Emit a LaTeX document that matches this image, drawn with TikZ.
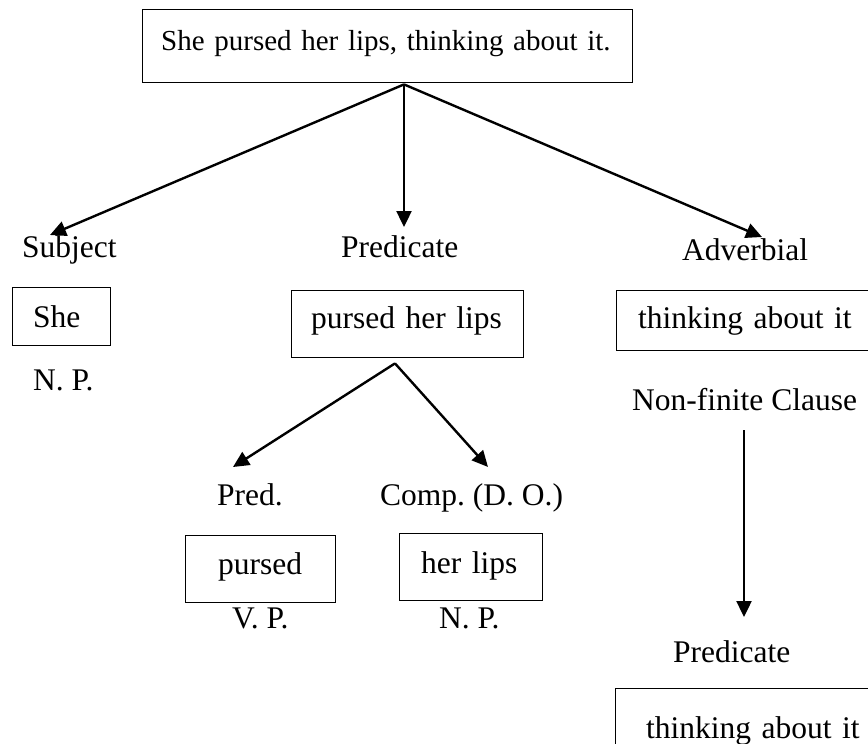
\documentclass[tikz,border=0pt]{standalone}
\usepackage{fontspec}
\setmainfont{Liberation Serif}
\usetikzlibrary{arrows.meta,calc}
\begin{document}
\frenchspacing
\begin{tikzpicture}[x=1pt,y=-1pt,
  lbl/.style={inner sep=0pt, anchor=base west, font=\fontsize{31.5}{36}\selectfont},
  bx/.style={draw, line width=1.4pt, inner ysep=0pt, inner xsep=0.5pt, anchor=north west, align=left, font=\fontsize{31.5}{36}\selectfont},
  arr/.style={line width=2.4pt, -{Triangle[length=16pt,width=15pt]}}]
\useasboundingbox (0,0) rectangle (868,744);
\clip (0,0) rectangle (868,744);
% boxes
\node[bx, font=\fontsize{29}{36}\selectfont, text width=489pt, text height=41pt, text depth=32pt] (top) at (142,9) {\hspace*{18pt}She pursed her lips, thinking about it.};
\node[bx, text width=97pt, text height=40pt, text depth=18pt] (she) at (12,287) {\hspace*{20pt}She};
\node[bx, text width=231pt, text height=38pt, text depth=29pt] (plips) at (291,290) {\hspace*{19pt}pursed her lips};
\node[bx, text width=255pt, text height=38pt, text depth=22pt] (think1) at (616,290) {\hspace*{21pt}thinking about it};
\node[bx, text width=149pt, text height=39pt, text depth=28pt] (pursed) at (185,535) {\hspace*{32pt}pursed};
\node[bx, text width=142pt, text height=40pt, text depth=27pt] (herlips) at (399,533) {\hspace*{21pt}her lips};
\node[bx, text width=274pt, text height=50pt, text depth=22pt] (think2) at (615,688) {\hspace*{30pt}thinking about it};
% labels
\node[lbl] (subj) at (22,257) {Subject};
\node[lbl] (pred) at (341,257) {Predicate};
\node[lbl] (adv) at (682,260) {Adverbial};
\node[lbl] (np1) at (33,390) {N. P.};
\node[lbl] (nfc) at (632,410) {Non-finite Clause};
\node[lbl] (predd) at (217,505) {Pred.};
\node[lbl] (comp) at (380,505) {Comp. (D. O.)};
\node[lbl] (vp) at (232,628) {V. P.};
\node[lbl] (np2) at (439,628) {N. P.};
\node[lbl] (pred2) at (673,662) {Predicate};
% connectors
\draw[arr] ($(top.south west)+(262,1)$) -- ($(subj.base west)+(28,-22)$);
\draw[arr] ($(top.south west)+(262,1)$) -- ($(pred.base west)+(63,-30)$);
\draw[arr] ($(top.south west)+(262,1)$) -- ($(adv.base west)+(80,-23)$);
\draw[arr] ($(plips.south west)+(104,5)$) -- ($(predd.base west)+(16,-38)$);
\draw[arr] ($(plips.south west)+(104,5)$) -- ($(comp.base west)+(108,-38)$);
\draw[arr] ($(nfc.base west)+(112,20)$) -- ($(pred2.base west)+(71,-45)$);
\end{tikzpicture}
\end{document}
